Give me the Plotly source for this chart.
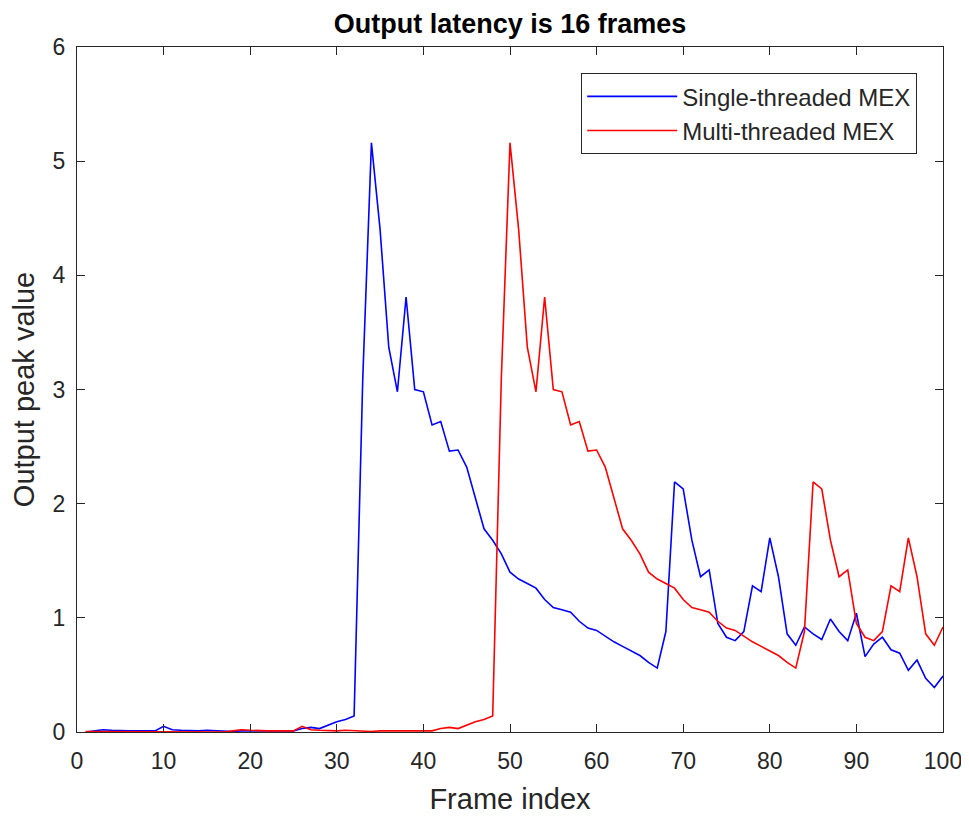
import plotly.graph_objects as go

frames = list(range(1, 101))

single_threaded = [
    0.00, 0.01, 0.02, 0.015, 0.01, 0.01, 0.01, 0.01, 0.01, 0.05,
    0.02, 0.015, 0.01, 0.01, 0.015, 0.01, 0.01, 0.005, 0.01, 0.01,
    0.01, 0.01, 0.015, 0.01, 0.01, 0.03, 0.04, 0.03, 0.06, 0.09,
    0.11, 0.14, 3.10, 5.16, 4.40, 3.37, 2.98, 3.81, 3.00, 2.98,
    2.69, 2.72, 2.46, 2.47, 2.32, 2.06, 1.78, 1.68, 1.56, 1.40,
    1.34, 1.30, 1.26, 1.16, 1.09, 1.07, 1.05, 0.97, 0.91, 0.89,
    0.84, 0.79, 0.75, 0.71, 0.67, 0.61, 0.56, 0.88, 2.19, 2.13,
    1.68, 1.36, 1.42, 0.95, 0.83, 0.80, 0.88, 1.28, 1.23, 1.70,
    1.36, 0.86, 0.76, 0.92, 0.86, 0.81, 0.99, 0.88, 0.80, 1.04,
    0.66, 0.77, 0.83, 0.72, 0.69, 0.54, 0.63, 0.47, 0.39, 0.49,
]

multi_threaded = [
    0.005, 0.005, 0.005, 0.005, 0.005, 0.005, 0.005, 0.005, 0.005, 0.005,
    0.005, 0.005, 0.005, 0.005, 0.005, 0.005,
    0.00, 0.01, 0.02, 0.015, 0.01, 0.01, 0.01, 0.01, 0.01, 0.05,
    0.02, 0.015, 0.01, 0.01, 0.015, 0.01, 0.01, 0.005, 0.01, 0.01,
    0.01, 0.01, 0.015, 0.01, 0.01, 0.03, 0.04, 0.03, 0.06, 0.09,
    0.11, 0.14, 3.10, 5.16, 4.40, 3.37, 2.98, 3.81, 3.00, 2.98,
    2.69, 2.72, 2.46, 2.47, 2.32, 2.06, 1.78, 1.68, 1.56, 1.40,
    1.34, 1.30, 1.26, 1.16, 1.09, 1.07, 1.05, 0.97, 0.91, 0.89,
    0.84, 0.79, 0.75, 0.71, 0.67, 0.61, 0.56, 0.88, 2.19, 2.13,
    1.68, 1.36, 1.42, 0.95, 0.83, 0.80, 0.88, 1.28, 1.23, 1.70,
    1.36, 0.86, 0.76, 0.92,
]

x_ticks = [0, 10, 20, 30, 40, 50, 60, 70, 80, 90, 100]
y_ticks = [0, 1, 2, 3, 4, 5, 6]

axis_color = "#262626"
font_family = "Liberation Sans, Arial, Helvetica, sans-serif"

fig = go.Figure()
fig.add_trace(go.Scatter(x=frames, y=single_threaded, mode="lines",
                         name="Single-threaded MEX",
                         line=dict(color="#0000FF", width=1.6)))
fig.add_trace(go.Scatter(x=frames, y=multi_threaded, mode="lines",
                         name="Multi-threaded MEX",
                         line=dict(color="#FF0000", width=1.6)))

axis_common = dict(
    showline=True, linecolor=axis_color, linewidth=1.2, mirror="ticks",
    ticks="inside", ticklen=8, tickwidth=1.2, tickcolor=axis_color,
    showgrid=False, zeroline=False, automargin=False,
    tickfont=dict(family=font_family, size=23, color=axis_color),
)

fig.update_layout(
    width=969, height=816,
    paper_bgcolor="white", plot_bgcolor="white",
    margin=dict(l=69, r=34, t=39, b=92),
    title=dict(text="<b>Output latency is 16 frames</b>",
               x=0.5, xanchor="center", xref="paper",
               y=0.981, yanchor="middle",
               font=dict(family=font_family, size=27, color="black")),
    xaxis=dict(range=[0, 100], tickvals=x_ticks, ticklabelstandoff=8,
               title=dict(text="Frame index",
                          font=dict(family=font_family, size=29, color=axis_color)),
               **axis_common),
    yaxis=dict(range=[0, 6], tickvals=y_ticks, ticklabelstandoff=6,
               title=dict(text="Output peak value",
                          font=dict(family=font_family, size=29, color=axis_color)),
               **axis_common),
    legend=dict(x=0.97, xanchor="right", y=0.962, yanchor="top",
                bgcolor="white", bordercolor=axis_color, borderwidth=1.2,
                font=dict(family=font_family, size=24, color=axis_color),
                tracegroupgap=0, itemwidth=90),
    showlegend=True,
)

fig.write_html("out.html")
